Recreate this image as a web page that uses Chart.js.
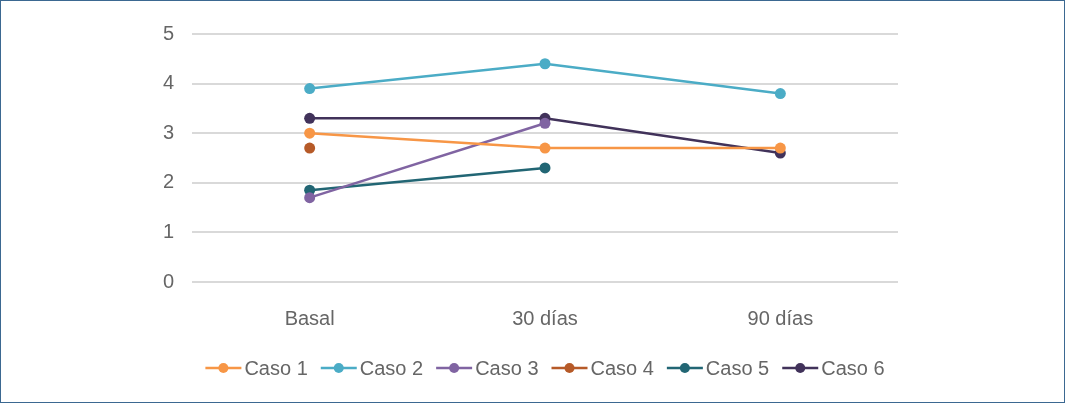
<!DOCTYPE html>
<html lang="es">
<head>
  <meta charset="UTF-8" />
  <title>Casos</title>
  <script src="https://cdn.jsdelivr.net/npm/chart.js"></script>
  <style>
    html, body { margin: 0; padding: 0; background: #fff; }
    .frame {
      width: 1065px;
      height: 403px;
      box-sizing: border-box;
      border: 1px solid #3b6891;
      position: relative;
    }
    canvas { position: absolute; left: 0; top: 0; }
  </style>
</head>
<body>
  <div class="frame">
    <canvas id="chart" width="1063" height="401"></canvas>
  </div>

  <script>
    const categories = ["Basal", "30 días", "90 días"];
    const caso1 = [3.0, 2.7, 2.7];
    const caso2 = [3.9, 4.4, 3.8];
    const caso3 = [1.7, 3.2, null];
    const caso4 = [2.7, null, null];
    const caso5 = [1.85, 2.3, null];
    const caso6 = [3.3, 3.3, 2.6];
    const yTicks = [0, 1, 2, 3, 4, 5];

    const series = [
      { label: "Caso 1", data: caso1, color: "#f79646" },
      { label: "Caso 2", data: caso2, color: "#4bacc6" },
      { label: "Caso 3", data: caso3, color: "#8064a2" },
      { label: "Caso 4", data: caso4, color: "#b65a28" },
      { label: "Caso 5", data: caso5, color: "#226674" },
      { label: "Caso 6", data: caso6, color: "#41325a" }
    ];

    const font = "Liberation Sans, Arial, sans-serif";

    // legend with line + dot marker, centred under the plot area
    const lineLegend = {
      id: "lineLegend",
      afterDraw(chart) {
        const ctx = chart.ctx;
        const area = chart.chartArea;
        ctx.save();
        ctx.font = "20px " + font;
        ctx.textBaseline = "middle";
        const lineW = 36, gap = 3, itemGap = 13;
        const widths = chart.data.datasets.map(d => lineW + gap + ctx.measureText(d.label).width);
        const total = widths.reduce((a, b) => a + b, 0) + itemGap * (widths.length - 1);
        let x = (area.left + area.right) / 2 - total / 2;
        const y = 367;
        chart.data.datasets.forEach((d, i) => {
          ctx.strokeStyle = d.borderColor;
          ctx.lineWidth = 2.5;
          ctx.beginPath();
          ctx.moveTo(x, y);
          ctx.lineTo(x + lineW, y);
          ctx.stroke();
          ctx.fillStyle = d.borderColor;
          ctx.beginPath();
          ctx.arc(x + lineW / 2, y, 5, 0, Math.PI * 2);
          ctx.fill();
          ctx.fillStyle = "#666666";
          ctx.fillText(d.label, x + lineW + gap, y + 1);
          x += widths[i] + itemGap;
        });
        ctx.restore();
      }
    };

    new Chart(document.getElementById("chart"), {
      type: "line",
      data: {
        labels: categories,
        datasets: series.map(s => ({
          label: s.label,
          data: s.data,
          borderColor: s.color,
          backgroundColor: s.color,
          borderWidth: 2.5,
          pointRadius: 5.5,
          pointHoverRadius: 5.5,
          pointBorderWidth: 0,
          tension: 0,
          spanGaps: false
        }))
      },
      options: {
        responsive: false,
        animation: false,
        layout: { padding: { top: 33, right: 166, left: 0, bottom: 0 } },
        plugins: {
          legend: { display: false },
          tooltip: { enabled: false }
        },
        scales: {
          x: {
            offset: true,
            grid: { display: false },
            border: { display: false },
            ticks: { color: "#666666", font: { family: font, size: 20 }, padding: 17 },
            afterFit: s => { s.height = 120; }
          },
          y: {
            min: 0,
            max: 5,
            afterBuildTicks: s => { s.ticks = yTicks.map(v => ({ value: v })); },
            grid: { color: "#d9d9d9", lineWidth: 2, drawTicks: false },
            border: { display: false },
            ticks: { color: "#666666", font: { family: font, size: 20 }, padding: 18 },
            afterFit: s => { s.width = 191; }
          }
        }
      },
      plugins: [lineLegend]
    });
  </script>
</body>
</html>
